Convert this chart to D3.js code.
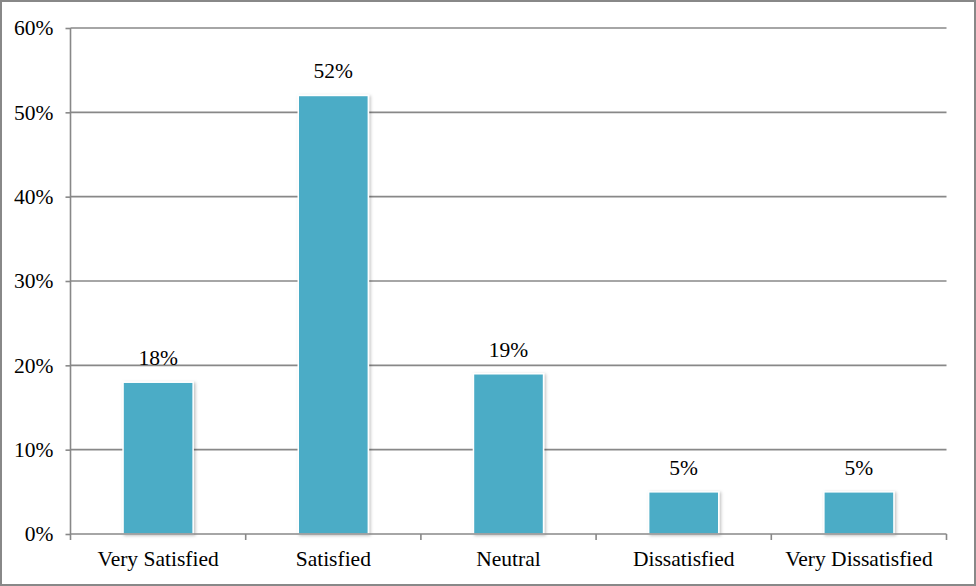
<!DOCTYPE html>
<html lang="en">
<head>
<meta charset="UTF-8">
<title>Satisfaction</title>
<script src="https://cdn.jsdelivr.net/npm/d3@7.8.5/dist/d3.min.js"></script>
<style>
  body { margin: 0; background: #fff; }
  svg { display: block; }
</style>
</head>
<body>
<div id="chart"></div>
<script>
  // chart data
  const categories = ["Very Satisfied", "Satisfied", "Neutral", "Dissatisfied", "Very Dissatisfied"];
  const values = [18, 52, 19, 5, 5];
  const yTicks = [0, 10, 20, 30, 40, 50, 60];

  const FONT = "'Liberation Serif', 'Times New Roman', serif";
  const FS = 21.5;
  const W = 976, H = 586;
  const margin = {top: 28, right: 29.5, bottom: 52, left: 70.5};
  const width = W - margin.left - margin.right;
  const height = H - margin.top - margin.bottom;

  const svg = d3.select("#chart").append("svg")
    .attr("width", W).attr("height", H)
    .attr("font-family", FONT);

  // drop shadow for bars
  const defs = svg.append("defs");
  const f = defs.append("filter").attr("id", "shadow")
    .attr("x", "-20%").attr("y", "-20%").attr("width", "140%").attr("height", "140%");
  f.append("feDropShadow").attr("dx", 1.5).attr("dy", 1).attr("stdDeviation", 1.5)
    .attr("flood-color", "#000").attr("flood-opacity", 0.25);

  // outer border
  svg.append("rect")
    .attr("x", 1).attr("y", 1).attr("width", W - 2).attr("height", H - 2)
    .attr("fill", "none").attr("stroke", "#888").attr("stroke-width", 2);

  const g = svg.append("g").attr("transform", `translate(${margin.left},${margin.top})`);

  const x = d3.scaleBand().domain(categories).range([0, width]).paddingInner(0.6).paddingOuter(0.3);
  const y = d3.scaleLinear().domain([0, 60]).range([height, 0]);

  // gridlines
  g.selectAll(".grid").data(yTicks.filter(d => d > 0)).enter().append("line")
    .attr("x1", 0).attr("x2", width)
    .attr("y1", d => y(d)).attr("y2", d => y(d))
    .attr("stroke", "#888").attr("stroke-width", 1.6);

  // y axis
  const yAxis = g.append("g")
    .call(d3.axisLeft(y).tickValues(yTicks).tickFormat(d => d + "%").tickSize(5).tickPadding(12))
    .attr("font-family", FONT).attr("font-size", FS);
  yAxis.select(".domain").attr("stroke", "#888").attr("stroke-width", 1.6).attr("d", `M0,${height}V0`);
  yAxis.selectAll(".tick line").attr("stroke", "#888").attr("stroke-width", 1.6);
  yAxis.selectAll(".tick text").attr("fill", "#000");

  // bars
  g.selectAll(".bar").data(values).enter().append("rect")
    .attr("x", (d, i) => x(categories[i]))
    .attr("y", d => y(d))
    .attr("width", x.bandwidth())
    .attr("height", d => y(0) - y(d))
    .attr("fill", "#4BACC6")
    .attr("stroke", "#fff").attr("stroke-width", 1.5)
    .attr("filter", "url(#shadow)");

  // value labels
  g.selectAll(".lbl").data(values).enter().append("text")
    .attr("x", (d, i) => x(categories[i]) + x.bandwidth() / 2)
    .attr("y", d => y(d) - 17)
    .attr("text-anchor", "middle")
    .attr("font-size", FS)
    .text(d => d + "%");

  // x axis
  const step = width / categories.length;
  const xb = g.append("g").attr("transform", `translate(0,${height})`);
  xb.append("line").attr("x1", 0).attr("x2", width).attr("y1", 0).attr("y2", 0)
    .attr("stroke", "#888").attr("stroke-width", 1.6);
  xb.selectAll(".xt").data(d3.range(categories.length + 1)).enter().append("line")
    .attr("x1", i => i * step).attr("x2", i => i * step)
    .attr("y1", 0).attr("y2", 6)
    .attr("stroke", "#888").attr("stroke-width", 1.6);
  xb.selectAll(".xl").data(categories).enter().append("text")
    .attr("x", d => x(d) + x.bandwidth() / 2)
    .attr("y", 32)
    .attr("text-anchor", "middle")
    .attr("font-size", FS)
    .text(d => d);
</script>
</body>
</html>
